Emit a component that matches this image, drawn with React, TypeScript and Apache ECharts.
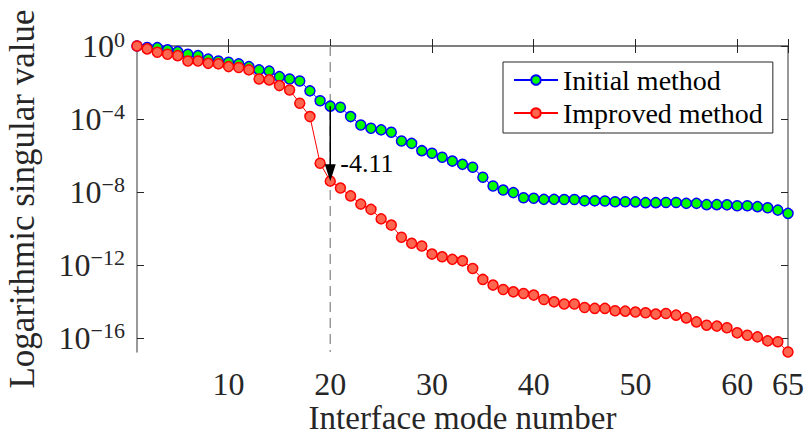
import React, { useEffect, useRef } from "react";
import * as echarts from "echarts";

// log10 of the singular values, modes 1..65
const initialLog10 = [
  0, -0.08, -0.09, -0.21, -0.31, -0.45, -0.53, -0.72, -0.82, -0.89,
  -0.98, -1.13, -1.31, -1.38, -1.68, -1.81, -1.92, -2.46, -3.0, -3.3,
  -3.36, -3.87, -4.33, -4.51, -4.6, -4.73, -5.21, -5.34, -5.74, -5.88,
  -6.1, -6.31, -6.49, -6.65, -7.2, -7.68, -7.9, -8.04, -8.32, -8.35,
  -8.41, -8.41, -8.42, -8.42, -8.49, -8.49, -8.5, -8.54, -8.54, -8.55,
  -8.59, -8.59, -8.58, -8.58, -8.63, -8.63, -8.7, -8.7, -8.71, -8.76,
  -8.76, -8.81, -8.87, -9.0, -9.18,
];
const improvedLog10 = [
  0, -0.16, -0.34, -0.45, -0.53, -0.82, -0.82, -0.95, -0.98, -1.13,
  -1.18, -1.31, -1.81, -1.86, -2.17, -2.41, -3.14, -3.87, -6.43, -7.41,
  -7.79, -8.22, -8.67, -8.96, -9.48, -9.82, -10.49, -10.82, -10.97, -11.41,
  -11.56, -11.7, -11.78, -12.2, -12.8, -13.11, -13.35, -13.48, -13.57, -13.66,
  -13.9, -14.03, -14.15, -14.15, -14.34, -14.39, -14.39, -14.52, -14.54, -14.59,
  -14.63, -14.7, -14.67, -14.76, -14.91, -15.13, -15.31, -15.36, -15.45, -15.73,
  -15.86, -15.95, -16.17, -16.22, -16.78,
];
const xTickValues = [10, 20, 30, 40, 50, 60, 65];
const yTickExponents = [0, -4, -8, -12, -16];
const markedMode = 20;
const seriesNames = ["Initial method", "Improved method"];

const FONT = "Liberation Serif";
const TXT = "#262626";
const AXIS = "#777777";

export default function App() {
  const ref = useRef<HTMLDivElement>(null);

  useEffect(() => {
    if (!ref.current) return;
    const chart = echarts.init(ref.current, undefined, { renderer: "svg" });
    const modes = initialLog10.map((_, i) => i + 1);
    const xMin = modes[0];
    const xMax = modes[modes.length - 1];
    const yMin = Math.min(...initialLog10, ...improvedLog10);
    const yMax = Math.max(...initialLog10, ...improvedLog10);
    const idx = markedMode - 1;
    const diff = improvedLog10[idx] - initialLog10[idx];

    const yLabelFmt = (v: number) => {
      const e = Math.round(v);
      const s = e < 0 ? "\u2212" + Math.abs(e) : String(e);
      return `{b|10}{s|${s}}`;
    };

    const baseX = {
      type: "value" as const,
      min: xMin,
      max: xMax,
      splitLine: { show: false },
      axisLine: { show: true, lineStyle: { color: AXIS, width: 1.5 } },
      axisTick: {
        show: true,
        inside: true,
        length: 7,
        customValues: xTickValues,
        lineStyle: { color: TXT, width: 1 },
      },
    };
    const baseY = {
      type: "value" as const,
      min: yMin,
      max: yMax,
      splitLine: { show: false },
      axisLine: { show: true, lineStyle: { color: AXIS, width: 1.5 } },
      axisTick: {
        show: true,
        inside: true,
        length: 7,
        customValues: yTickExponents,
        lineStyle: { color: TXT, width: 1 },
      },
    };

    chart.setOption({
      animation: false,
      backgroundColor: "#ffffff",
      textStyle: { fontFamily: FONT },
      grid: {
        left: 137,
        right: 17,
        top: 46,
        bottom: 83,
        containLabel: false,
        outerBoundsMode: "none",
      },
      legend: {
        orient: "vertical",
        left: 503,
        top: 62,
        padding: [3, 10, 5, 10],
        itemGap: 3,
        itemWidth: 44,
        itemHeight: 12,
        borderColor: TXT,
        borderWidth: 1,
        backgroundColor: "#ffffff",
        data: seriesNames,
        textStyle: {
          fontFamily: FONT,
          fontSize: 28,
          color: "#000",
          lineHeight: 30,
        },
      },
      xAxis: [
        {
          ...baseX,
          position: "bottom",
          name: "Interface mode number",
          nameLocation: "middle",
          nameGap: 51,
          nameMoveOverlap: false,
          nameTextStyle: {
            fontFamily: FONT,
            fontSize: 33,
            lineHeight: 30,
            color: TXT,
          },
          axisLabel: {
            show: true,
            customValues: xTickValues,
            margin: 16,
            fontFamily: FONT,
            fontSize: 32,
            color: TXT,
          },
        },
        {
          ...baseX,
          position: "top",
          axisLabel: { show: false },
        },
      ],
      yAxis: [
        {
          ...baseY,
          position: "left",
          name: "Logarithmic singular value",
          nameLocation: "middle",
          nameGap: 97,
          nameTextStyle: { fontFamily: FONT, fontSize: 35, color: TXT },
          axisLabel: {
            show: true,
            customValues: yTickExponents,
            margin: 12,
            formatter: yLabelFmt,
            rich: {
              b: { fontFamily: FONT, fontSize: 32, color: TXT, lineHeight: 36 },
              s: {
                fontFamily: FONT,
                fontSize: 22,
                color: TXT,
                lineHeight: 22,
                verticalAlign: "top",
              },
            },
          },
        },
        {
          ...baseY,
          position: "right",
          axisLabel: { show: false },
        },
      ],
      series: [
        {
          type: "custom",
          name: "guide",
          silent: true,
          z: 1,
          data: [[markedMode, yMax]],
          encode: { x: 0, y: 1 },
          renderItem: (params: any, api: any) => {
            const p = api.coord([api.value(0), api.value(1)]);
            const cs = params.coordSys;
            return {
              type: "line",
              shape: { x1: p[0], y1: cs.y, x2: p[0], y2: cs.y + cs.height },
              style: { stroke: "#9a9a9a", lineWidth: 1.5, lineDash: [10, 6] },
            };
          },
        },
        {
          type: "line",
          name: seriesNames[0],
          z: 3,
          data: modes.map((m, i) => [m, initialLog10[i]]),
          symbol: "circle",
          symbolSize: 10,
          lineStyle: { color: "#0000ff", width: 1 },
          itemStyle: { color: "#00ff00", borderColor: "#0000ff", borderWidth: 1.5 },
        },
        {
          type: "line",
          name: seriesNames[1],
          z: 4,
          data: modes.map((m, i) => [m, improvedLog10[i]]),
          symbol: "circle",
          symbolSize: 10,
          lineStyle: { color: "#ff0000", width: 1 },
          itemStyle: { color: "#ff6650", borderColor: "#ff0000", borderWidth: 1.5 },
        },
        {
          type: "custom",
          name: "arrow",
          silent: true,
          z: 6,
          data: [[markedMode, initialLog10[idx], improvedLog10[idx]]],
          encode: { x: 0, y: [1, 2] },
          renderItem: (params: any, api: any) => {
            const a = api.coord([api.value(0), api.value(1)]);
            const b = api.coord([api.value(0), api.value(2)]);
            return {
              type: "group",
              children: [
                {
                  type: "line",
                  shape: { x1: a[0], y1: a[1], x2: b[0], y2: b[1] - 14 },
                  style: { stroke: "#000", lineWidth: 1.5 },
                },
                {
                  type: "polygon",
                  shape: {
                    points: [
                      [b[0] - 5.5, b[1] - 17],
                      [b[0] + 5.5, b[1] - 17],
                      [b[0], b[1]],
                    ],
                  },
                  style: { fill: "#000" },
                },
                {
                  type: "text",
                  x: b[0] + 10,
                  y: b[1] - 18,
                  style: {
                    text: diff.toFixed(2),
                    fontFamily: FONT,
                    fontSize: 26,
                    fill: "#000",
                    verticalAlign: "middle",
                    align: "left",
                  },
                },
              ],
            };
          },
        },
      ],
    });
    return () => chart.dispose();
  }, []);

  return (
    <div
      ref={ref}
      style={{ position: "fixed", left: 0, top: 0, width: 805, height: 435 }}
    />
  );
}
